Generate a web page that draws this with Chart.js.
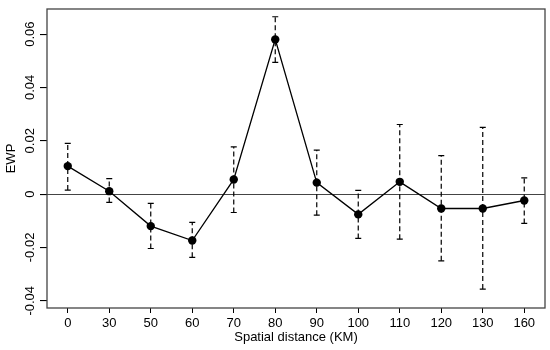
<!DOCTYPE html>
<html>
<head>
  <title>EWP by spatial distance</title>
  <script src="https://cdn.jsdelivr.net/npm/chart.js@4.4.0/dist/chart.umd.min.js"></script>
  <style>
    body { margin: 0; background: #fff; }
    #wrap { width: 550px; height: 350px; }
  </style>
</head>
<body>
  <div id="wrap"><canvas id="myChart" width="550" height="350"></canvas></div>
  <script>
    // data
    var distances = ['0', '30', '50', '60', '70', '80', '90', '100', '110', '120', '130', '160'];
    var ewp   = [0.0105, 0.0011, -0.0120, -0.0174, 0.0055, 0.0580, 0.0043, -0.0076, 0.0046, -0.0054, -0.0054, -0.0024];
    var upper = [0.0190, 0.0058, -0.0035, -0.0106, 0.0177, 0.0665, 0.0165, 0.0014, 0.0261, 0.0144, 0.0250, 0.0061];
    var lower = [0.0015, -0.0031, -0.0204, -0.0237, -0.0069, 0.0494, -0.0079, -0.0166, -0.0169, -0.0250, -0.0356, -0.0110];
    var yTicks = [-0.04, -0.02, 0, 0.02, 0.04, 0.06];

    var fontFamily = "'Liberation Sans', Arial, sans-serif";

    // dashed error bars with caps
    var errorBars = {
      id: 'errorBars',
      beforeDatasetsDraw: function(chart) {
        var ctx = chart.ctx;
        var xs = chart.scales.x, ys = chart.scales.y;
        ctx.save();
        ctx.strokeStyle = '#000';
        ctx.lineWidth = 1.2;
        for (var i = 0; i < ewp.length; i++) {
          var x = xs.getPixelForValue(i);
          var yu = ys.getPixelForValue(upper[i]);
          var yl = ys.getPixelForValue(lower[i]);
          ctx.setLineDash([5, 3]);
          ctx.beginPath();
          ctx.moveTo(x, yl);
          ctx.lineTo(x, yu);
          ctx.stroke();
          ctx.setLineDash([]);
          ctx.beginPath();
          ctx.moveTo(x - 3, yu); ctx.lineTo(x + 3, yu);
          ctx.moveTo(x - 3, yl); ctx.lineTo(x + 3, yl);
          ctx.stroke();
        }
        ctx.restore();
      }
    };

    // box round the plot region
    var plotBox = {
      id: 'plotBox',
      afterDraw: function(chart) {
        var a = chart.chartArea, ctx = chart.ctx;
        ctx.save();
        ctx.strokeStyle = '#444';
        ctx.lineWidth = 1.3;
        ctx.strokeRect(a.left, a.top, a.right - a.left, a.bottom - a.top);
        ctx.restore();
      }
    };

    var ctx = document.getElementById('myChart').getContext('2d');
    var myChart = new Chart(ctx, {
      type: 'line',
      data: {
        labels: distances,
        datasets: [{
          data: ewp,
          borderColor: '#000',
          backgroundColor: '#000',
          borderWidth: 1.3,
          tension: 0,
          pointRadius: 4.2,
          pointHoverRadius: 4.2,
          pointBackgroundColor: '#000',
          pointBorderWidth: 0
        }]
      },
      options: {
        responsive: false,
        animation: false,
        layout: { padding: { left: 0, top: 9, right: 5, bottom: 0 } },
        plugins: {
          legend: { display: false },
          tooltip: { enabled: false }
        },
        scales: {
          x: {
            type: 'category',
            offset: true,
            border: { display: false },
            grid: { drawOnChartArea: false, color: '#000', tickColor: '#000', tickLength: 5, offset: false },
            ticks: { color: '#000', padding: 3, maxRotation: 0, autoSkip: false, font: { family: fontFamily, size: 13 } },
            title: { display: true, text: 'Spatial distance (KM)', color: '#000', padding: { top: 0, bottom: 5 }, font: { family: fontFamily, size: 13 } },
            afterFit: function(scale) { scale.height = 42; }
          },
          y: {
            min: -0.0427,
            max: 0.0694,
            border: { display: false },
            afterBuildTicks: function(scale) {
              scale.ticks = yTicks.map(function(v) { return { value: v }; });
            },
            grid: {
              color: function(c) { return (c.tick && Math.abs(c.tick.value) < 1e-9) ? '#444' : 'rgba(0,0,0,0)'; },
              tickColor: '#000',
              tickLength: 7,
              lineWidth: 1.1
            },
            ticks: {
              color: '#000',
              minRotation: 90,
              maxRotation: 90,
              crossAlign: 'center',
              padding: -5,
              font: { family: fontFamily, size: 13 },
              callback: function(v) { return Math.abs(v) < 1e-9 ? '0' : v.toFixed(2); }
            },
            title: { display: true, text: 'EWP', color: '#000', padding: { top: 4, bottom: 0 }, font: { family: fontFamily, size: 13 } },
            afterFit: function(scale) { scale.width = 47; }
          }
        }
      },
      plugins: [errorBars, plotBox]
    });
  </script>
</body>
</html>
